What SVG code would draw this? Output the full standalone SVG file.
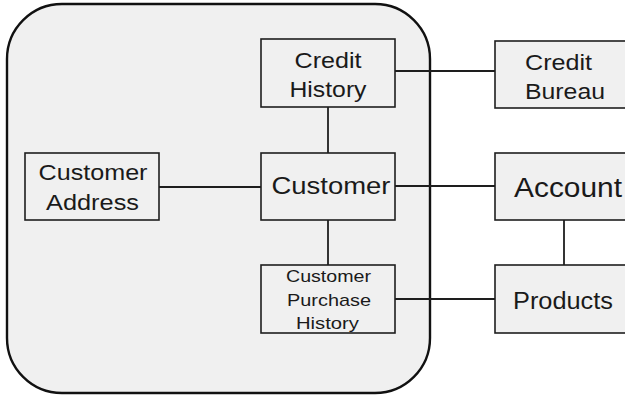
<svg xmlns="http://www.w3.org/2000/svg" width="625" height="397" viewBox="0 0 625 397">
  <style>
    .box { fill: #f0f0f0; stroke: #1e1e1e; stroke-width: 1.6; }
    .frame { fill: #f0f0f0; stroke: #111; stroke-width: 2.4; }
    .link { stroke: #1e1e1e; stroke-width: 1.8; fill: none; }
    text { font-family: "Liberation Sans", Arial, sans-serif; fill: #1a1a1a; }
    .mid { text-anchor: middle; }
  </style>
  <rect width="625" height="397" fill="#ffffff"/>

  <!-- customer boundary -->
  <rect id="boundary" class="frame" x="7" y="4" width="423" height="389" rx="55" ry="55"/>

  <!-- connectors -->
  <g id="connectors">
    <line class="link" x1="395" y1="71" x2="495" y2="71"/>
    <line class="link" x1="328" y1="107" x2="328" y2="153"/>
    <line class="link" x1="159" y1="187" x2="261" y2="187"/>
    <line class="link" x1="395" y1="186" x2="495" y2="186"/>
    <line class="link" x1="328" y1="220" x2="328" y2="265"/>
    <line class="link" x1="564" y1="219" x2="564" y2="265"/>
    <line class="link" x1="395" y1="299" x2="495" y2="299"/>
  </g>

  <g id="credit-history">
    <rect class="box" x="261" y="39" width="134" height="68"/>
    <text class="mid" x="328" y="68" font-size="22" textLength="67" lengthAdjust="spacingAndGlyphs">Credit</text>
    <text class="mid" x="328" y="97" font-size="22" textLength="77" lengthAdjust="spacingAndGlyphs">History</text>
  </g>

  <g id="credit-bureau">
    <rect class="box" x="495" y="41" width="140" height="67"/>
    <text x="525" y="70" font-size="22" textLength="67" lengthAdjust="spacingAndGlyphs">Credit</text>
    <text x="525" y="99" font-size="22" textLength="80" lengthAdjust="spacingAndGlyphs">Bureau</text>
  </g>

  <g id="customer-address">
    <rect class="box" x="25" y="153" width="134" height="67"/>
    <text class="mid" x="93" y="180" font-size="22" textLength="109" lengthAdjust="spacingAndGlyphs">Customer</text>
    <text class="mid" x="92.5" y="210" font-size="22" textLength="93" lengthAdjust="spacingAndGlyphs">Address</text>
  </g>

  <g id="customer">
    <rect class="box" x="261" y="153" width="134" height="67"/>
    <text class="mid" x="331" y="194" font-size="24" textLength="119" lengthAdjust="spacingAndGlyphs">Customer</text>
  </g>

  <g id="account">
    <rect class="box" x="495" y="153" width="140" height="67"/>
    <text x="514" y="197" font-size="27" textLength="108" lengthAdjust="spacingAndGlyphs">Account</text>
  </g>

  <g id="customer-purchase-history">
    <rect class="box" x="261" y="265" width="134" height="68"/>
    <text class="mid" x="328.5" y="282" font-size="17" textLength="85" lengthAdjust="spacingAndGlyphs">Customer</text>
    <text class="mid" x="329" y="306" font-size="17" textLength="84" lengthAdjust="spacingAndGlyphs">Purchase</text>
    <text class="mid" x="327.5" y="329" font-size="17" textLength="63" lengthAdjust="spacingAndGlyphs">History</text>
  </g>

  <g id="products">
    <rect class="box" x="495" y="265" width="140" height="68"/>
    <text x="513" y="309" font-size="23" textLength="100" lengthAdjust="spacingAndGlyphs">Products</text>
  </g>
</svg>
